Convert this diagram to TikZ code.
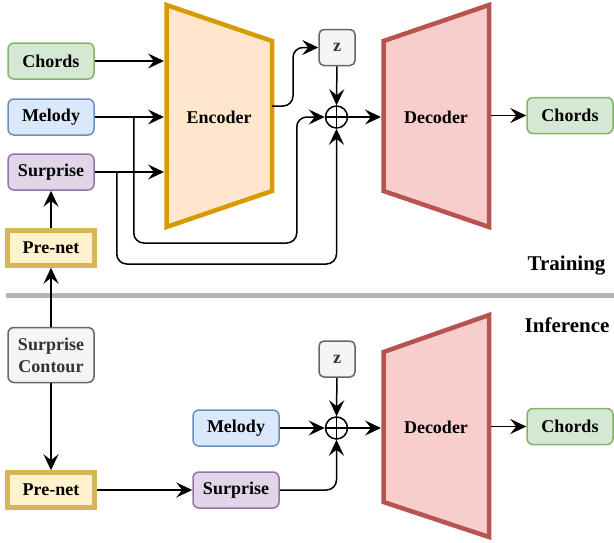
\documentclass[tikz,border=0pt]{standalone}
\usepackage{fontspec}
\setmainfont{Liberation Serif}
\usetikzlibrary{shapes.geometric, arrows.meta}
\definecolor{greenfill}{HTML}{D5E8D4}
\definecolor{greenline}{HTML}{82B366}
\definecolor{bluefill}{HTML}{DAE8FC}
\definecolor{blueline}{HTML}{6C8EBF}
\definecolor{purplefill}{HTML}{E1D5E7}
\definecolor{purpleline}{HTML}{9673A6}
\definecolor{grayfill}{HTML}{F5F5F5}
\definecolor{grayline}{HTML}{666666}
\definecolor{yellowfill}{HTML}{FFF2CC}
\definecolor{yellowline}{HTML}{D6B656}
\definecolor{orangefill}{HTML}{FFE6CC}
\definecolor{orangeline}{HTML}{D79B00}
\definecolor{redfill}{HTML}{F8CECC}
\definecolor{redline}{HTML}{B85450}
\definecolor{splitline}{HTML}{B3B3B3}
\tikzstyle{chordbox} = [rectangle, rounded corners=6pt, minimum width=86pt, minimum height=36pt, text centered, line width=1.5pt, draw=greenline, fill=greenfill]
\tikzstyle{melodybox} = [rectangle, rounded corners=6pt, minimum width=86pt, minimum height=36pt, text centered, line width=1.5pt, draw=blueline, fill=bluefill]
\tikzstyle{surprisebox} = [rectangle, rounded corners=6pt, minimum width=86pt, minimum height=36pt, text centered, line width=1.5pt, draw=purpleline, fill=purplefill]
\tikzstyle{contourbox} = [rectangle, rounded corners=6pt, minimum width=86pt, minimum height=55pt, align=center, line width=1.5pt, draw=grayline, fill=grayfill, text=black!80]
\tikzstyle{zbox} = [rectangle, rounded corners=5pt, minimum width=36pt, minimum height=36pt, line width=1.5pt, draw=grayline, fill=grayfill, text=black!80]
\tikzstyle{prenetbox} = [rectangle, minimum width=87pt, minimum height=35pt, text centered, line width=4.5pt, draw=yellowline, fill=yellowfill]
\tikzstyle{sumnode} = [circle, draw, line width=1.5pt, minimum size=22pt, inner sep=0pt, path picture={\draw[line width=1.5pt] (path picture bounding box.north) -- (path picture bounding box.south) (path picture bounding box.west) -- (path picture bounding box.east);}]
\tikzstyle{encoderbox} = [line width=4.5pt, draw=orangeline, fill=orangefill]
\tikzstyle{decoderbox} = [line width=4.5pt, draw=redline, fill=redfill]
\tikzstyle{arrow} = [line width=1.5pt, -{Stealth[length=16pt, width=15pt, inset=6pt]}]
\tikzstyle{phase} = [anchor=east, font=\bfseries\fontsize{21}{24}\selectfont]

\begin{document}
\begin{tikzpicture}[x=1pt, y=-1pt, node distance=56pt, font=\bfseries\fontsize{18}{22}\selectfont]
\useasboundingbox (0,0) rectangle (614,542);

% training
\draw [encoderbox] (166.5,5) -- (272,41) -- (272,191) -- (166.5,227) -- cycle;
\draw [decoderbox] (383.5,41) -- (489,5) -- (489,227) -- (383.5,191) -- cycle;
\node (enc) at (219,117) {Encoder};
\node (dec) at (436,117) {Decoder};
\coordinate (encL) at (164,116);
\coordinate (encR) at (272,106);
\coordinate (decL) at (381,116);
\coordinate (decR) at (491,116);

\node (chords) [chordbox] at (51,61) {Chords};
\node (melody) [melodybox, below of=chords] {Melody};
\node (surprise) [surprisebox, below of=melody, yshift=1pt] {Surprise};
\node (prenet) [prenetbox, below of=surprise, yshift=-20pt] {Pre-net};
\node (z) [zbox] at (337,47.5) {z};
\node (plus) [sumnode] at (336.5,117) {};
\node (chordsout) [chordbox] at (570,115.5) {Chords};

\draw [arrow] (chords.east) -- (chords.east -| encL);
\draw [arrow] (melody.east) -- (melody.east -| encL);
\draw [arrow] (surprise.east) -- (surprise.east -| encL);
\draw [arrow] (prenet) -- (surprise);
\draw [arrow, rounded corners=10pt] (encR) -- ++(21,0) |- (z.west);
\draw [arrow] (z) -- (plus);
\draw [arrow, rounded corners=10pt] ([xshift=39pt]melody.east) -- ++(0,126) -| ([xshift=-28pt]plus.west) -- (plus.west);
\draw [arrow, rounded corners=10pt] ([xshift=22pt]surprise.east) -- ++(0,92) -| (plus.south);
\draw [arrow] (plus.east) -- (plus.east -| decL);
\draw [arrow] (chordsout.west -| decR) -- (chordsout.west);

\node (training) [phase] at (609,266) {Training};
\draw [line width=5pt, splitline] (6,295) -- (614,295);
\node (inference) [phase] at (613,325) {Inference};

% inference
\draw [decoderbox] (383.5,352) -- (489,315) -- (489,537) -- (383.5,502) -- cycle;
\node (dec2) at (436,427) {Decoder};
\coordinate (decL2) at (381,428);
\coordinate (decR2) at (491,428);

\node (contour) [contourbox] at (51,355) {Surprise\\Contour};
\node (prenet2) [prenetbox] at (51,490) {Pre-net};
\node (melody2) [melodybox] at (236,428) {Melody};
\node (surprise2) [surprisebox] at (236,490) {Surprise};
\node (z2) [zbox] at (337,359) {z};
\node (plus2) [sumnode] at (336.5,428) {};
\node (chordsout2) [chordbox] at (570,426.5) {Chords};

\draw [arrow] (contour) -- (prenet);
\draw [arrow] (contour) -- (prenet2);
\draw [arrow] (prenet2) -- (surprise2);
\draw [arrow] (melody2) -- (plus2);
\draw [arrow, rounded corners=10pt] (surprise2.east) -| (plus2.south);
\draw [arrow] (z2) -- (plus2);
\draw [arrow] (plus2.east) -- (plus2.east -| decL2);
\draw [arrow] (chordsout2.west -| decR2) -- (chordsout2.west);
\end{tikzpicture}
\end{document}
